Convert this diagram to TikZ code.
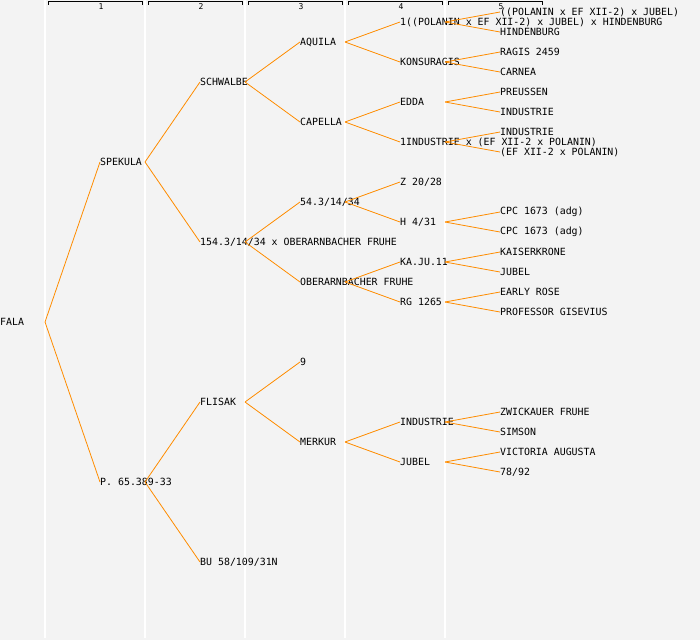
\documentclass[tikz,border=0pt]{standalone}
\usepackage{fontspec}
\setmonofont{DejaVu Sans Mono}
\usetikzlibrary{positioning}
\definecolor{pedbg}{RGB}{243,243,243}
\definecolor{pedline}{RGB}{255,140,0}
\tikzset{
    horse/.style={anchor=west, inner sep=0pt, font=\ttfamily\fontsize{9.9}{11}\selectfont},
    link/.style={pedline, line width=0.8pt},
    gen/.style={inner sep=0pt, font=\ttfamily\fontsize{8}{9}\selectfont},
    sep/.style={white, line width=1.2pt}
}
\begin{document}
\begin{tikzpicture}[x=1pt, y=-1pt]

    % Background and columns
    \fill[pedbg] (0,0) rectangle (700,640);
    \useasboundingbox (0,0) rectangle (700,640);
    \foreach \x in {45,145,245,345,445}
        \draw[sep] (\x,0) -- (\x,638);

    % Generation headers
    \foreach \g in {1,...,5} {
        \draw[black, line width=0.9pt] (100*\g-52,4.5) -- (100*\g-52,1.5) -- (100*\g+42,1.5) -- (100*\g+42,4.5);
        \node[gen] (h\g) at (100*\g+1,6.5) {\g};
    }

    % Nodes
    \node[horse] (F) at (0,322) {FALA};

    \node[horse] (S) at (100,162) {SPEKULA};
    \node[horse] (P) at (100,482) {P. 65.389-33};

    \node[horse] (SS) at (200,82) {SCHWALBE};
    \node[horse] (SP) at (200,242) {154.3/14/34 x OBERARNBACHER FRUHE};
    \node[horse] (PS) at (200,402) {FLISAK};
    \node[horse] (PP) at (200,562) {BU 58/109/31N};

    \node[horse] (SSS) at (300,42) {AQUILA};
    \node[horse] (SSP) at (300,122) {CAPELLA};
    \node[horse] (SPS) at (300,202) {54.3/14/34};
    \node[horse] (SPP) at (300,282) {OBERARNBACHER FRUHE};
    \node[horse] (PSS) at (300,362) {9};
    \node[horse] (PSP) at (300,442) {MERKUR};

    \node[horse] (SSSS) at (400,22) {1((POLANIN x EF XII-2) x JUBEL) x HINDENBURG};
    \node[horse] (SSSP) at (400,62) {KONSURAGIS};
    \node[horse] (SSPS) at (400,102) {EDDA};
    \node[horse] (SSPP) at (400,142) {1INDUSTRIE x (EF XII-2 x POLANIN)};
    \node[horse] (SPSS) at (400,182) {Z 20/28};
    \node[horse] (SPSP) at (400,222) {H 4/31};
    \node[horse] (SPPS) at (400,262) {KA.JU.11};
    \node[horse] (SPPP) at (400,302) {RG 1265};
    \node[horse] (PSPS) at (400,422) {INDUSTRIE};
    \node[horse] (PSPP) at (400,462) {JUBEL};

    \node[horse] (SSSSS) at (500,12) {((POLANIN x EF XII-2) x JUBEL)};
    \node[horse] (SSSSP) at (500,32) {HINDENBURG};
    \node[horse] (SSSPS) at (500,52) {RAGIS 2459};
    \node[horse] (SSSPP) at (500,72) {CARNEA};
    \node[horse] (SSPSS) at (500,92) {PREUSSEN};
    \node[horse] (SSPSP) at (500,112) {INDUSTRIE};
    \node[horse] (SSPPS) at (500,132) {INDUSTRIE};
    \node[horse] (SSPPP) at (500,152) {(EF XII-2 x POLANIN)};
    \node[horse] (SPSPS) at (500,212) {CPC 1673 (adg)};
    \node[horse] (SPSPP) at (500,232) {CPC 1673 (adg)};
    \node[horse] (SPPSS) at (500,252) {KAISERKRONE};
    \node[horse] (SPPSP) at (500,272) {JUBEL};
    \node[horse] (SPPPS) at (500,292) {EARLY ROSE};
    \node[horse] (SPPPP) at (500,312) {PROFESSOR GISEVIUS};
    \node[horse] (PSPSS) at (500,412) {ZWICKAUER FRUHE};
    \node[horse] (PSPSP) at (500,432) {SIMSON};
    \node[horse] (PSPPS) at (500,452) {VICTORIA AUGUSTA};
    \node[horse] (PSPPP) at (500,472) {78/92};

    % Links
    \draw[link] ([xshift=45pt]F.west) -- (S.west);
    \draw[link] ([xshift=45pt]F.west) -- (P.west);

    \draw[link] ([xshift=45pt]S.west) -- (SS.west);
    \draw[link] ([xshift=45pt]S.west) -- (SP.west);
    \draw[link] ([xshift=45pt]P.west) -- (PS.west);
    \draw[link] ([xshift=45pt]P.west) -- (PP.west);

    \draw[link] ([xshift=45pt]SS.west) -- (SSS.west);
    \draw[link] ([xshift=45pt]SS.west) -- (SSP.west);
    \draw[link] ([xshift=45pt]SP.west) -- (SPS.west);
    \draw[link] ([xshift=45pt]SP.west) -- (SPP.west);
    \draw[link] ([xshift=45pt]PS.west) -- (PSS.west);
    \draw[link] ([xshift=45pt]PS.west) -- (PSP.west);

    \draw[link] ([xshift=45pt]SSS.west) -- (SSSS.west);
    \draw[link] ([xshift=45pt]SSS.west) -- (SSSP.west);
    \draw[link] ([xshift=45pt]SSP.west) -- (SSPS.west);
    \draw[link] ([xshift=45pt]SSP.west) -- (SSPP.west);
    \draw[link] ([xshift=45pt]SPS.west) -- (SPSS.west);
    \draw[link] ([xshift=45pt]SPS.west) -- (SPSP.west);
    \draw[link] ([xshift=45pt]SPP.west) -- (SPPS.west);
    \draw[link] ([xshift=45pt]SPP.west) -- (SPPP.west);
    \draw[link] ([xshift=45pt]PSP.west) -- (PSPS.west);
    \draw[link] ([xshift=45pt]PSP.west) -- (PSPP.west);

    \draw[link] ([xshift=45pt]SSSS.west) -- (SSSSS.west);
    \draw[link] ([xshift=45pt]SSSS.west) -- (SSSSP.west);
    \draw[link] ([xshift=45pt]SSSP.west) -- (SSSPS.west);
    \draw[link] ([xshift=45pt]SSSP.west) -- (SSSPP.west);
    \draw[link] ([xshift=45pt]SSPS.west) -- (SSPSS.west);
    \draw[link] ([xshift=45pt]SSPS.west) -- (SSPSP.west);
    \draw[link] ([xshift=45pt]SSPP.west) -- (SSPPS.west);
    \draw[link] ([xshift=45pt]SSPP.west) -- (SSPPP.west);
    \draw[link] ([xshift=45pt]SPSP.west) -- (SPSPS.west);
    \draw[link] ([xshift=45pt]SPSP.west) -- (SPSPP.west);
    \draw[link] ([xshift=45pt]SPPS.west) -- (SPPSS.west);
    \draw[link] ([xshift=45pt]SPPS.west) -- (SPPSP.west);
    \draw[link] ([xshift=45pt]SPPP.west) -- (SPPPS.west);
    \draw[link] ([xshift=45pt]SPPP.west) -- (SPPPP.west);
    \draw[link] ([xshift=45pt]PSPS.west) -- (PSPSS.west);
    \draw[link] ([xshift=45pt]PSPS.west) -- (PSPSP.west);
    \draw[link] ([xshift=45pt]PSPP.west) -- (PSPPS.west);
    \draw[link] ([xshift=45pt]PSPP.west) -- (PSPPP.west);

\end{tikzpicture}
\end{document}
